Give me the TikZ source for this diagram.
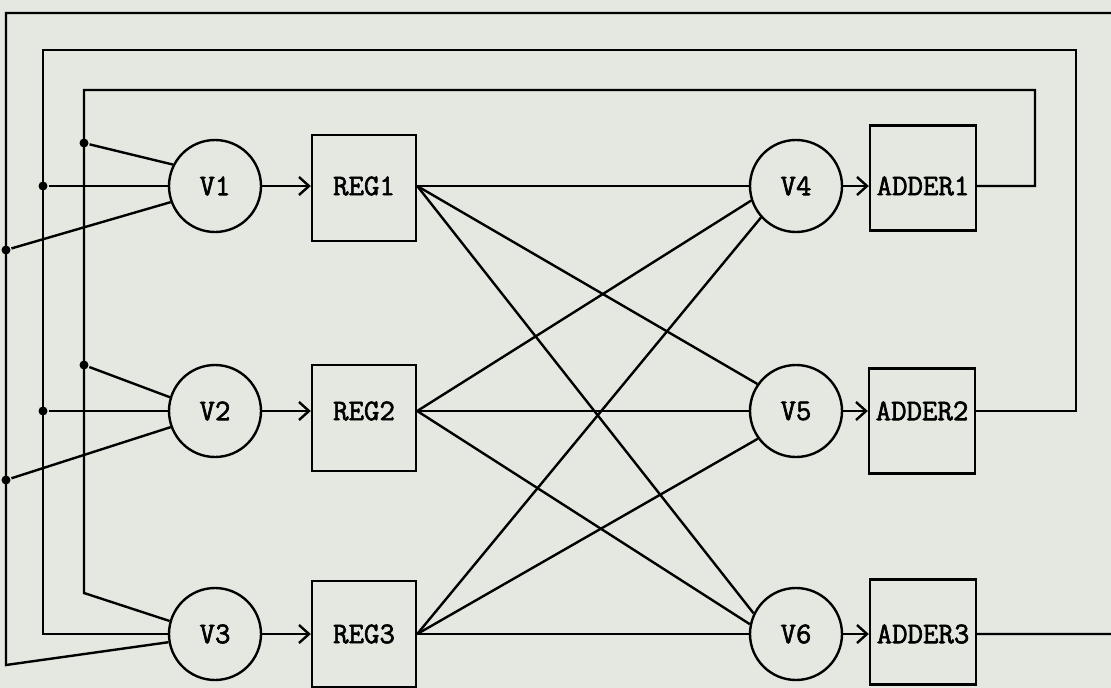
\documentclass[tikz,border=0pt]{standalone}
\usepackage{fontspec}
\newfontfamily\typer{Latin Modern Mono}[FakeBold=2]
\usetikzlibrary{arrows.meta}
\definecolor{paper}{RGB}{228,232,225}

\begin{document}
\begin{tikzpicture}[x=1pt, y=-1pt, line width=2.4pt,
  var/.style={draw, circle, minimum size=92pt, inner sep=0pt, font=\typer\fontsize{30}{33}\selectfont},
  reg/.style={draw, minimum width=104pt, minimum height=106pt, inner sep=0pt},
  adder/.style={draw, minimum width=106pt, minimum height=105pt, inner sep=0pt},
  txt/.style={inner sep=0pt, font=\typer\fontsize{30}{33}\selectfont},
  arr/.style={-{Straight Barb[length=10pt,width=18pt]}},
  dot/.style={circle, fill, inner sep=0pt, minimum size=9pt}
]
\useasboundingbox (0,0) rectangle (1111,688);
\fill[paper] (0,0) rectangle (1111,688);
\clip (0,0) rectangle (1111,688);

% variables, registers and adders
\node[var] (v1) at (215,186) {V1};
\node[var] (v2) at (215,411) {V2};
\node[var] (v3) at (215,634) {V3};
\node[reg] (reg1) at (364,188) {};
\node[reg] (reg2) at (364,418) {};
\node[reg] (reg3) at (364,634) {};
\node[txt] (reg1t) at (reg1 |- v1) {REG1};
\node[txt] (reg2t) at (reg2 |- v2) {REG2};
\node[txt] (reg3t) at (reg3 |- v3) {REG3};
\node[var] (v4) at (796,186) {V4};
\node[var] (v5) at (796,411) {V5};
\node[var] (v6) at (796,634) {V6};
\node[adder] (add1) at (923,178) {};
\node[adder] (add2) at (922,421) {};
\node[adder] (add3) at (923,632) {};
\node[txt] (add1t) at (add1 |- v4) {ADDER1};
\node[txt] (add2t) at (add2 |- v5) {ADDER2};
\node[txt] (add3t) at (add3 |- v6) {ADDER3};

\foreach \a/\b in {v1/reg1, v2/reg2, v3/reg3, v4/add1, v5/add2, v6/add3}{\draw[arr] (\a.east) -- (\a.east -| \b.west);}

% register outputs to the second column
\coordinate (o1) at (reg1.east |- v1);
\coordinate (o2) at (reg2.east |- v2);
\coordinate (o3) at (reg3.east |- v3);
\foreach \r/\t in {o1/v4.west, o1/v5.145, o1/v6.154, o2/v4.198, o2/v5.west, o2/v6.168, o3/v4.222, o3/v5.216, o3/v6.west}{\draw (\r) -- (\t);}

% feedback from the adders
\coordinate (a1) at (add1.east |- v4);
\coordinate (a2) at (add2.east |- v5);
\coordinate (a3) at (add3.east |- v6);
\draw (a1) -| (1035,90) -| (84,593) -- (v3.164);
\draw (a2) -| (1076,50) -| (43,634) -- (v3.west);
\draw (a3) -- (1125,634) |- (6,13) -- (6,665) -- (v3.190);

\node[dot] (in1) at (84,143) {};
\node[dot] (in2) at (84,365) {};
\node[dot] (mid1) at (43,186) {};
\node[dot] (mid2) at (43,411) {};
\node[dot] (out1) at (6,250) {};
\node[dot] (out2) at (6,480) {};
\draw (in1) -- (v1.153);
\draw (in2) -- (v2.163);
\draw (mid1) -- (v1.west);
\draw (mid2) -- (v2.west);
\draw (out1) -- (v1.200);
\draw (out2) -- (v2.200);
\end{tikzpicture}
\end{document}
